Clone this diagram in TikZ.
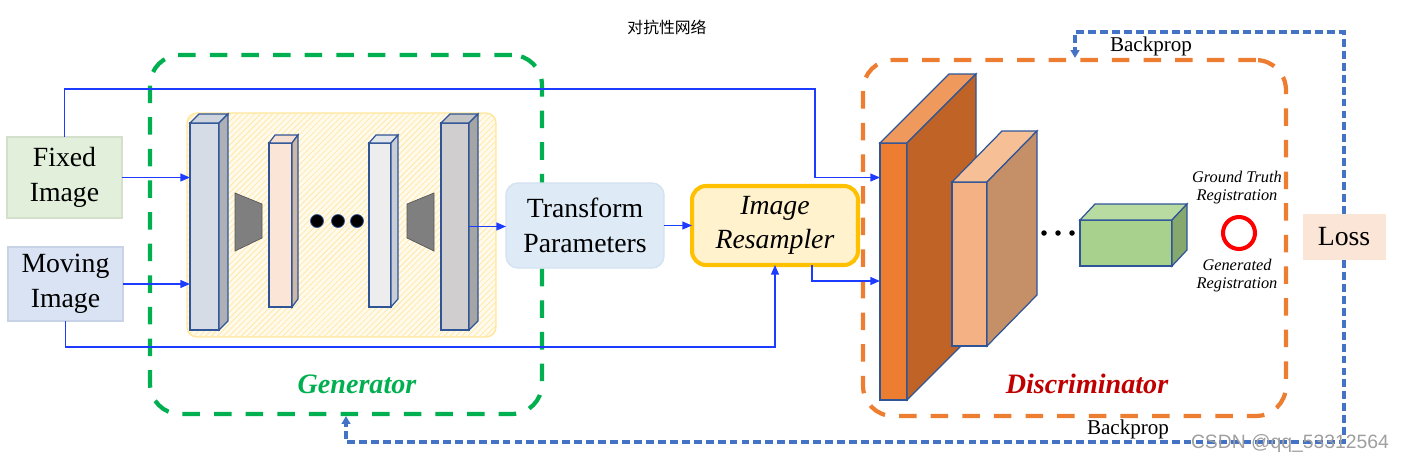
\documentclass[tikz,border=0pt]{standalone}
\usepackage{fontspec}
\setmainfont{Liberation Serif}
\newfontfamily\cjk{Noto Sans CJK SC}
\newfontfamily\wmfont{Liberation Sans}
\usepackage{tikz}
\usetikzlibrary{arrows.meta,calc,patterns.meta}

\definecolor{fixgreen}{HTML}{E2EFDA}
\definecolor{fixedge}{HTML}{D3E0CB}
\definecolor{movblue}{HTML}{DAE3F3}
\definecolor{movedge}{HTML}{C8D3E8}
\definecolor{tpblue}{HTML}{DEEBF7}
\definecolor{tpedge}{HTML}{D3E1F0}
\definecolor{resfill}{HTML}{FFF2CC}
\definecolor{resedge}{HTML}{FFC000}
\definecolor{lossfill}{HTML}{FBE5D6}
\definecolor{lyrblue}{HTML}{2F5597}
\definecolor{enconef}{HTML}{D6DCE5}
\definecolor{encones}{HTML}{ADB1B7}
\definecolor{encotop}{HTML}{CDD4DE}
\definecolor{enctwof}{HTML}{FBE5D6}
\definecolor{enctwos}{HTML}{CDB8A8}
\definecolor{enctwot}{HTML}{F6E0D2}
\definecolor{encthrf}{HTML}{EDEDED}
\definecolor{encthrs}{HTML}{C9CED6}
\definecolor{encthrt}{HTML}{E3E6EA}
\definecolor{encfouf}{HTML}{D0CECE}
\definecolor{encfous}{HTML}{A5A5A5}
\definecolor{encfout}{HTML}{C4C4C4}
\definecolor{funnelgray}{HTML}{7F7F7F}
\definecolor{disonef}{HTML}{ED7D31}
\definecolor{disones}{HTML}{BF6326}
\definecolor{disonet}{HTML}{F0995D}
\definecolor{distwof}{HTML}{F4B183}
\definecolor{distwos}{HTML}{C58F68}
\definecolor{distwot}{HTML}{F6BF95}
\definecolor{disthrf}{HTML}{A9D18E}
\definecolor{disthrs}{HTML}{86A86F}
\definecolor{disthrt}{HTML}{B8DBA2}
\definecolor{gengreen}{HTML}{00B050}
\definecolor{discorange}{HTML}{ED7D31}
\definecolor{arblue}{HTML}{1E3CFF}
\definecolor{bpblue}{HTML}{4472C4}
\definecolor{disclbl}{HTML}{C00000}
\definecolor{hatchbg}{HTML}{FFFAEB}
\definecolor{hatchline}{HTML}{FFE9A8}
\definecolor{hatchedge}{HTML}{FFE699}

% top and side faces of a layer block
\newcommand{\prism}[5]{%
  \draw[layer,fill=#4] (#1.north west) -- ++(#2,-#3) -- ($(#1.north east)+(#2,-#3)$) -- (#1.north east) -- cycle;
  \draw[layer,fill=#5] (#1.north east) -- ++(#2,-#3) -- ($(#1.south east)+(#2,-#3)$) -- (#1.south east) -- cycle;}

\begin{document}
\begin{tikzpicture}[x=0.02cm, y=-0.02cm,
  layer/.style={draw=lyrblue, line width=0.7pt, inner sep=0pt, outer sep=0pt},
  inbox/.style={inner sep=0pt, outer sep=0pt, align=center, line width=0.8pt, font=\fontsize{15.8}{19.6}\selectfont},
  frame/.style={line width=2.4pt, dash pattern=on 10pt off 8pt, rounded corners=0.6cm},
  hatch/.style={draw=hatchedge, line width=0.8pt, fill=hatchbg, rounded corners=0.2cm,
    postaction={pattern={Lines[angle=45,distance=2.4pt,line width=0.45pt]}, pattern color=hatchline}},
  ar/.style={draw=arblue, line width=0.8pt, -{Triangle[length=5.5pt,width=4.5pt]}},
  bp/.style={draw=bpblue, line width=2pt, dash pattern=on 4.5pt off 2.3pt, -{Triangle[length=4.5pt,width=5pt]}},
  funnel/.style={draw=gray!70!black, fill=funnelgray, line width=0.4pt},
  lbl/.style={font=\fontsize{16}{19}\selectfont\bfseries\itshape},
  small/.style={align=center, font=\fontsize{9.3}{10.2}\selectfont\itshape}]
  \useasboundingbox (0,0) rectangle (1404,464);

  \node[font=\cjk\fontsize{9}{10}\selectfont] (title) at (667,27) {对抗性网络};

  % frames
  \node[frame, draw=gengreen, minimum width=7.84cm, minimum height=7.18cm] (gen) at (346,234.5) {};
  \node[frame, draw=discorange, minimum width=8.46cm, minimum height=7.12cm] (disc) at (1074.5,238) {};
  \node[hatch, minimum width=6.18cm, minimum height=4.48cm] (net) at (341.5,225) {};

  % inputs
  \node[inbox, fill=fixgreen, draw=fixedge, minimum width=2.3cm, minimum height=1.62cm] (fixed) at (64.5,177.5) {Fixed\\Image};
  \node[inbox, fill=movblue, draw=movedge, minimum width=2.3cm, minimum height=1.48cm] (moving) at (65.5,284) {Moving\\Image};

  % generator
  \node[layer, fill=enconef, minimum width=0.58cm, minimum height=4.14cm] (enc1) at (204.5,226.5) {};
  \prism{enc1}{9}{9}{encotop}{encones}
  \node[layer, fill=enctwof, minimum width=0.46cm, minimum height=3.28cm] (enc2) at (280.5,225) {};
  \prism{enc2}{6}{8}{enctwot}{enctwos}
  \node[layer, fill=encthrf, minimum width=0.44cm, minimum height=3.28cm] (enc3) at (380,225) {};
  \prism{enc3}{7}{8}{encthrt}{encthrs}
  \node[layer, fill=encfouf, minimum width=0.56cm, minimum height=4.14cm] (enc4) at (455,226.5) {};
  \prism{enc4}{9}{9}{encfout}{encfous}
  \draw[funnel] (235,193) -- (262,204) -- (262,238) -- (235,251) -- cycle;
  \draw[funnel] (407,204) -- (434,193) -- (434,251) -- (407,238) -- cycle;
  \foreach \x in {317,338,357}
    \draw[fill=black, draw=lyrblue, line width=0.4pt] (\x,221) circle (0.13cm);

  \node[inbox, fill=tpblue, draw=tpedge, rounded corners=0.24cm, minimum width=3.16cm, minimum height=1.7cm] (tp) at (585,225.5) {Transform\\Parameters};
  \node[inbox, fill=resfill, draw=resedge, line width=2.3pt, rounded corners=0.28cm, minimum width=3.32cm, minimum height=1.58cm,
    font=\fontsize{15.8}{19.6}\selectfont\itshape] (res) at (775,225.5) {Image\\Resampler};

  % discriminator
  \node[layer, fill=disonef, minimum width=0.54cm, minimum height=5.14cm] (d1) at (893.5,271.5) {};
  \prism{d1}{69}{69}{disonet}{disones}
  \node[layer, fill=distwof, minimum width=0.7cm, minimum height=3.28cm] (d2) at (969.5,264) {};
  \prism{d2}{50}{51}{distwot}{distwos}
  \node[layer, fill=disthrf, minimum width=1.84cm, minimum height=0.92cm] (d3) at (1126,243) {};
  \prism{d3}{15}{16}{disthrt}{disthrs}
  \foreach \x in {1044,1058,1072}
    \fill (\x,233) circle (0.055cm);
  \node[small] (gt) at (1237,188) {Ground Truth\\Registration};
  \node[draw=red, line width=2.3pt, circle, minimum size=0.64cm, inner sep=0pt] (cmp) at (1239,233) {};
  \node[small] (gr) at (1237,276) {Generated\\Registration};

  \node[inbox, fill=lossfill, minimum width=1.66cm, minimum height=0.92cm] (loss) at (1344,237) {Loss};

  \node[lbl, text=gengreen] (genlbl) at (357,384) {Generator};
  \node[lbl, text=disclbl] (disclbl) at (1087,384) {Discriminator};

  % connections
  \coordinate (c1) at (815,89);
  \coordinate (c2) at (775,347);
  \coordinate (c3) at (812,281);
  \draw[ar] (fixed.north) |- (c1) |- (d1.west |- fixed.east);
  \draw[ar] (fixed.east) -- (fixed.east -| enc1.west);
  \draw[ar] (moving.east) -- (moving.east -| enc1.west);
  \draw[ar] (moving.south) |- (c2) -- (res.south);
  \draw[ar] (enc4.east) -- (enc4.east -| tp.west);
  \draw[ar] (tp) -- (res);
  \draw[ar] (res.south -| c3) |- (c3 -| d1.west);

  % backprop
  \coordinate (bptop) at (1075,32);
  \coordinate (bpbot) at (346,442);
  \draw[bp] (loss.north) |- (bptop) -- (bptop |- disc.north);
  \draw[bp] (loss.south) |- (bpbot) -- (bpbot |- gen.south);
  \node[font=\fontsize{12}{14}\selectfont] (bpup) at (1151,46) {Backprop};
  \node[font=\fontsize{12}{14}\selectfont] (bpdown) at (1128,429) {Backprop};

  \node[font=\wmfont\fontsize{11}{13}\selectfont, text=gray!75] (wm) at (1290,443) {CSDN @qq\_53312564};
\end{tikzpicture}
\end{document}
